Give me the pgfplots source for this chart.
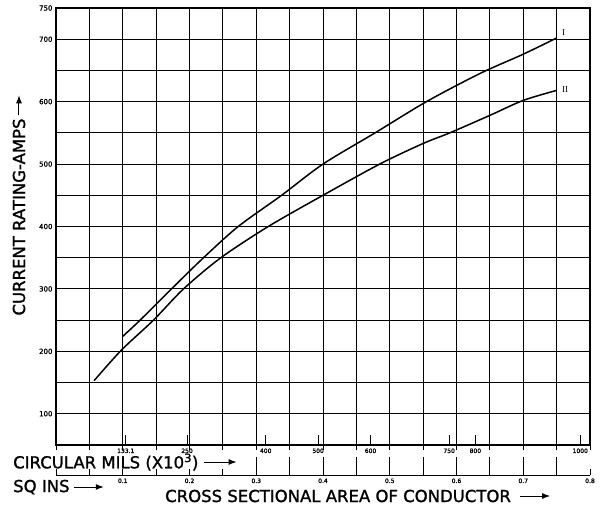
\documentclass[border=0pt]{standalone}
\usepackage{fontspec}
\setmainfont{DejaVu Sans}
\newfontfamily\lf[FakeBold=1.3]{DejaVu Sans}
\newfontfamily\serif{Liberation Serif}
\usepackage{pgfplots}
\pgfplotsset{compat=1.18}
\usetikzlibrary{arrows.meta}

\newcommand\lab{\lf\fontsize{16.5}{16.5}\selectfont}

\begin{document}
\begin{tikzpicture}
\useasboundingbox (-56pt,-62pt) rectangle (544pt,445pt);

% main chart
\begin{axis}[
  at={(0pt,0pt)}, anchor=south west,
  width=534pt, height=437pt, scale only axis,
  xmin=0, xmax=0.8, ymin=50, ymax=750,
  xtick={0,0.05,0.1,0.15,0.2,0.25,0.3,0.35,0.4,0.45,0.5,0.55,0.6,0.65,0.7,0.75,0.8},
  xticklabels={},
  ytick={50,100,...,750},
  yticklabels={,100,,200,,300,,400,,500,,600,,700,750},
  yticklabel style={font=\lf\fontsize{7}{7}\selectfont},
  xmajorgrids, ymajorgrids,
  grid style={black, line width=0.9pt},
  axis line style={line width=1.2pt},
  xtick pos=left, ytick pos=left,
  xtick align=outside, major tick length=5pt,
  ytick style={draw=none},
  tick style={black, line width=0.8pt},
  extra x ticks={0.1045,0.1963,0.3142,0.3927,0.4712,0.5890,0.6283,0.7854},
  extra x tick labels={133.1,250,400,500,600,750,800,1000},
  extra x tick style={grid=none, tick align=inside, major tick length=10pt,
    xticklabel style={font=\lf\fontsize{6}{6}\selectfont}},
  clip=false,
]
% curve I
\addplot[black, line width=1.5pt, smooth] coordinates {
  (0.100,224) (0.126,250) (0.173,300) (0.221,350) (0.273,400) (0.338,450)
  (0.400,500) (0.478,550) (0.555,600) (0.635,645) (0.700,676) (0.750,702)
};
% curve II
\addplot[black, line width=1.5pt, smooth] coordinates {
  (0.057,153) (0.098,202) (0.146,250) (0.191,300) (0.247,350) (0.318,400)
  (0.400,450) (0.485,500) (0.550,533) (0.590,550) (0.650,578) (0.700,602)
  (0.750,618)
};
\node[anchor=west, font=\serif\fontsize{9}{9}\selectfont] at (axis cs:0.753,711) {I};
\node[anchor=west, font=\serif\fontsize{9}{9}\selectfont] at (axis cs:0.753,619) {II};
\end{axis}

% square inches scale
\begin{axis}[
  at={(0pt,-30pt)}, anchor=south west,
  width=534pt, height=20pt, scale only axis,
  xmin=0, xmax=0.8, ymin=0, ymax=1,
  axis y line=none, axis x line*=bottom,
  axis line style={line width=0.6pt},
  xtick={0,0.05,0.1,0.15,0.2,0.25,0.3,0.35,0.4,0.45,0.5,0.55,0.6,0.65,0.7,0.75,0.8},
  xticklabels={,,0.1,,0.2,,0.3,,0.4,,0.5,,0.6,,0.7,,0.8},
  xticklabel style={font=\lf\fontsize{6}{6}\selectfont},
  tick align=inside, major tick length=6pt,
  tick style={black, line width=0.8pt},
  extra x ticks={0.3,0.35,0.4,0.45,0.5,0.55,0.6,0.65,0.7,0.75},
  extra x tick labels={},
  extra x tick style={major tick length=18pt},
]
\addplot[draw=none] coordinates {(0,0) (0.8,1)};
\end{axis}

% axis titles
\node[rotate=90, font=\lab, inner sep=0] (yl) at (-37pt,228pt) {CURRENT RATING-AMPS};
\draw[line width=1pt, -{Latex[length=8pt,width=6pt]}] (yl.east) ++(0,3pt) -- ++(0,20pt);

\node[anchor=west, font=\lab, inner sep=0] (cm) at (-43pt,-17pt) {CIRCULAR MILS (X10\textsuperscript{3})};
\draw[line width=1pt, -{Latex[length=8pt,width=6pt]}] (cm.east) ++(5pt,0) -- ++(33pt,0);

\node[anchor=west, font=\lab, inner sep=0] (sq) at (-43pt,-42pt) {SQ INS};
\draw[line width=1pt, -{Latex[length=8pt,width=6pt]}] (sq.east) ++(4pt,0) -- ++(30pt,0);

\node[anchor=west, font=\lab, inner sep=0] (cs) at (109pt,-51pt) {CROSS SECTIONAL AREA OF CONDUCTOR};
\draw[line width=1pt, -{Latex[length=8pt,width=6pt]}] (cs.east) ++(9pt,0) -- ++(30pt,0);
\end{tikzpicture}
\end{document}
